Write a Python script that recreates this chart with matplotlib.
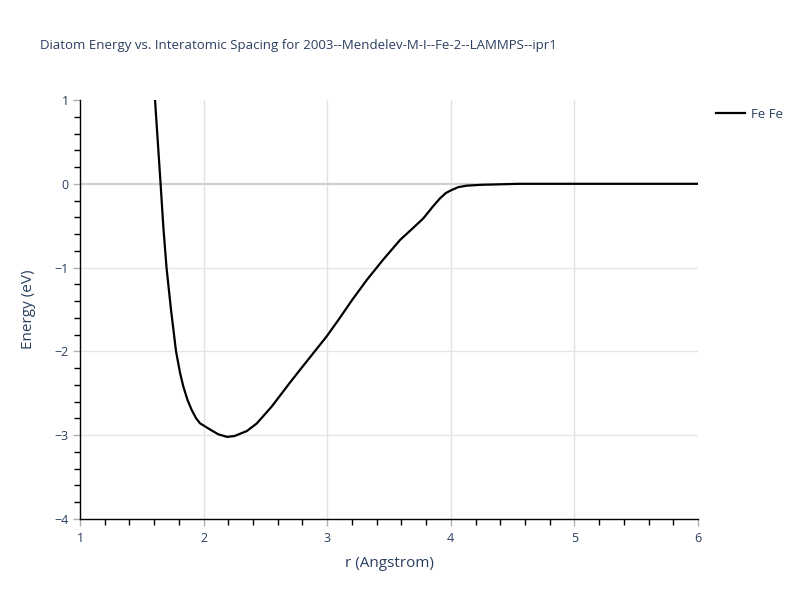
import matplotlib
matplotlib.use("Agg")
import matplotlib.pyplot as plt
from matplotlib.ticker import MultipleLocator

r = [1.607, 1.652, 1.674, 1.70, 1.736, 1.777, 1.81, 1.836, 1.87, 1.904, 1.94, 1.971, 2.05, 2.12, 2.19, 2.25,
     2.35, 2.43, 2.55, 2.70, 2.78, 2.888, 2.996, 3.10, 3.20, 3.32, 3.45, 3.589, 3.70, 3.778,
     3.85, 3.913, 3.96, 4.007, 4.06, 4.128, 4.25, 4.40, 4.55, 5.0, 5.5, 6.0]
energy = [1.0, 0.0, -0.51, -1.0, -1.5, -2.0, -2.26, -2.42, -2.58, -2.70, -2.80, -2.858, -2.93, -2.99, -3.02, -3.01,
          -2.95, -2.86, -2.66, -2.37, -2.22, -2.02, -1.82, -1.605, -1.39, -1.148, -0.91, -0.671, -0.52, -0.412,
          -0.28, -0.173, -0.11, -0.074, -0.04, -0.022, -0.012, -0.006, 0.0, 0.0, 0.0, 0.0]
series_name = "Fe Fe"
title = "Diatom Energy vs. Interatomic Spacing for 2003--Mendelev-M-I--Fe-2--LAMMPS--ipr1"

txt = "#2a3f5f"
plt.rcParams['font.family'] = ['Open Sans', 'DejaVu Sans']

fig = plt.figure(figsize=(8, 6), dpi=100)
ax = fig.add_axes([80/800, 1 - 519/600, 618/800, 419/600])

ax.plot(r, energy, color="black", lw=1.6, label=series_name, zorder=3, clip_on=True)
ax.set_xlim(1, 6)
ax.set_ylim(-4, 1)

ax.xaxis.set_major_locator(MultipleLocator(1))
ax.xaxis.set_minor_locator(MultipleLocator(0.2))
ax.yaxis.set_major_locator(MultipleLocator(1))
ax.yaxis.set_minor_locator(MultipleLocator(0.2))

for yv in [-3, -2, -1]:
    ax.axhline(yv, color="#e6e6e6", lw=1, zorder=1)
for xv in [2, 3, 4, 5]:
    ax.axvline(xv, color="#e3e3e3", lw=1, zorder=1)
ax.axhline(0, color="#cfcfcf", lw=1.5, zorder=2)

for s in ["top", "right"]:
    ax.spines[s].set_visible(False)
for s in ["left", "bottom"]:
    ax.spines[s].set_color("black")
    ax.spines[s].set_linewidth(1)

ax.tick_params(axis="both", which="major", direction="out", length=5, color="#b0b0b0",
               labelsize=9, labelcolor=txt, width=1)
ax.tick_params(axis="both", which="minor", direction="out", length=4, color="black", width=1)
ax.tick_params(axis="x", pad=4)
ax.tick_params(axis="y", pad=3)

ax.set_xlabel("r (Angstrom)", fontsize=11, color=txt, labelpad=8)
ax.set_ylabel("Energy (eV)", fontsize=11, color=txt, labelpad=13)

fig.text(40/800, 1 - 45/600, title, fontsize=9.5, color=txt, va="center", ha="left")

leg = ax.legend(loc="center left", bbox_to_anchor=(1.02, 1 - 14/419), frameon=False,
                fontsize=9.5, handlelength=2.2, handletextpad=0.5, borderaxespad=0)
for t in leg.get_texts():
    t.set_color(txt)

fig.savefig("out.png", dpi=100)
